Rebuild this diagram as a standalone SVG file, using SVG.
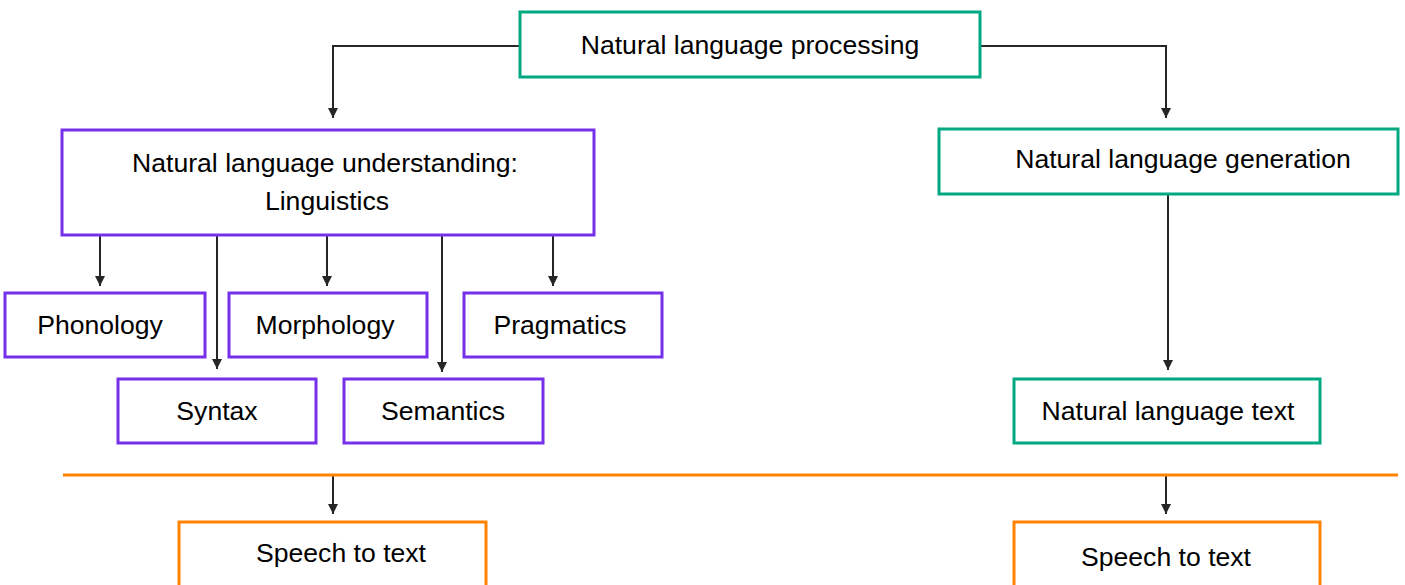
<svg xmlns="http://www.w3.org/2000/svg" width="1405" height="585" viewBox="0 0 1405 585">
<style>
.t{font-family:"Liberation Sans",Arial,sans-serif;font-size:26.6px;fill:#000;text-anchor:middle;dominant-baseline:central}
.g{fill:#fff;stroke:#01a982;stroke-width:3}
.p{fill:#fff;stroke:#7630ea;stroke-width:3}
.o{fill:#fff;stroke:#ff8300;stroke-width:3}
.c{fill:none;stroke:#262626;stroke-width:2}
</style>
<defs>
<marker id="ah" viewBox="0 0 10 10" refX="10" refY="5" markerWidth="10" markerHeight="10" markerUnits="userSpaceOnUse" orient="auto">
<path d="M0,0 L10,5 L0,10 Z" fill="#262626"/>
</marker>
</defs>
<g id="connectors">
<path class="c" d="M520,46 H333 V118" marker-end="url(#ah)"/>
<path class="c" d="M980,46 H1166 V118" marker-end="url(#ah)"/>
<path class="c" d="M1168,194 V370" marker-end="url(#ah)"/>
<path class="c" d="M100,235 V286" marker-end="url(#ah)"/>
<path class="c" d="M217,235 V369" marker-end="url(#ah)"/>
<path class="c" d="M327,235 V286" marker-end="url(#ah)"/>
<path class="c" d="M442,235 V372" marker-end="url(#ah)"/>
<path class="c" d="M553,235 V286" marker-end="url(#ah)"/>
<path class="c" d="M333,476 V514" marker-end="url(#ah)"/>
<path class="c" d="M1166,476 V514" marker-end="url(#ah)"/>
<line x1="63" y1="475" x2="1398" y2="475" stroke="#ff8300" stroke-width="3"/>
</g>
<g id="nlp"><rect class="g" x="520" y="12" width="460" height="65"/><text class="t" x="750" y="45">Natural language processing</text></g>
<g id="nlu"><rect class="p" x="62" y="130" width="532" height="105"/><text class="t" x="325" y="163">Natural language understanding:</text><text class="t" x="327" y="201">Linguistics</text></g>
<g id="nlg"><rect class="g" x="939" y="129" width="459" height="65"/><text class="t" x="1183" y="159">Natural language generation</text></g>
<g id="phonology"><rect class="p" x="5" y="293" width="200" height="64"/><text class="t" x="100" y="325">Phonology</text></g>
<g id="morphology"><rect class="p" x="229" y="293" width="198" height="64"/><text class="t" x="325" y="325">Morphology</text></g>
<g id="pragmatics"><rect class="p" x="464" y="293" width="198" height="64"/><text class="t" x="560" y="325">Pragmatics</text></g>
<g id="syntax"><rect class="p" x="118" y="379" width="198" height="64"/><text class="t" x="217" y="411">Syntax</text></g>
<g id="semantics"><rect class="p" x="344" y="379" width="199" height="64"/><text class="t" x="443" y="411">Semantics</text></g>
<g id="nltext"><rect class="g" x="1014" y="379" width="306" height="64"/><text class="t" x="1168" y="411">Natural language text</text></g>
<g id="stt1"><rect class="o" x="179" y="522" width="307" height="80"/><text class="t" x="341" y="553">Speech to text</text></g>
<g id="stt2"><rect class="o" x="1014" y="522" width="306" height="80"/><text class="t" x="1166" y="557">Speech to text</text></g>
</svg>
